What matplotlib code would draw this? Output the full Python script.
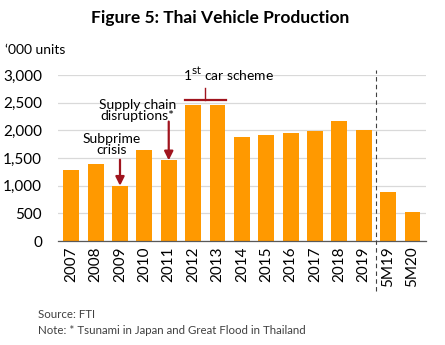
import numpy as np
import matplotlib
matplotlib.use("Agg")
import matplotlib.pyplot as plt
import matplotlib.transforms as mtransforms

plt.rcParams["font.family"] = ["Lato", "DejaVu Sans"]

# Thai vehicle production, '000 units
periods = ["2007", "2008", "2009", "2010", "2011", "2012", "2013", "2014",
           "2015", "2016", "2017", "2018", "2019", "5M19", "5M20"]
production = [1287, 1394, 999, 1645, 1458, 2454, 2457, 1880,
              1913, 1944, 1989, 2168, 2014, 890, 523]
y_ticks = [0, 500, 1000, 1500, 2000, 2500, 3000]

bar_color = "#FF9900"
note_red = "#A0141E"

fig = plt.figure(figsize=(4.45, 3.45), dpi=100)
ax = fig.add_axes([0.130, 0.3014, 0.827, 0.4812])

x = np.arange(len(periods))
ax.bar(x, production, width=0.65, color=bar_color, zorder=2)

ax.set_xlim(-0.55, len(periods) - 0.45)
ax.set_ylim(0, 3000)
ax.set_yticks(y_ticks)
ax.set_yticklabels([f"{v:,}" for v in y_ticks], fontsize=11)
ax.set_xticks(x)
ax.set_xticklabels(periods, rotation=90, fontsize=11)
ax.tick_params(length=0, pad=4)
ax.tick_params(axis="y", pad=11.5)
ax.grid(axis="y", color="#D9D9D9", linewidth=0.9, zorder=0)
for side in ["top", "right", "left"]:
    ax.spines[side].set_visible(False)
ax.spines["bottom"].set_color("#595959")
ax.spines["bottom"].set_linewidth(0.9)

# split between full years and year-to-date
trans = mtransforms.blended_transform_factory(ax.transData, ax.transAxes)
ax.plot([12.5, 12.5], [-0.30, 1.03], transform=trans, color="#404040",
        linestyle=(0, (4, 3)), linewidth=0.8, clip_on=False, zorder=3)

# annotations
i09 = periods.index("2009")
ax.annotate("", xy=(i09, production[i09]), xytext=(i09, production[i09] + 470),
            arrowprops=dict(arrowstyle="-|>", color=note_red, lw=1.6,
                            mutation_scale=13, shrinkA=0, shrinkB=0))
ax.text(i09 - 0.35, production[i09] + 530, "Subprime\ncrisis", ha="center",
        va="bottom", fontsize=10, linespacing=0.9)

i11 = periods.index("2011")
ax.annotate("", xy=(i11, production[i11]), xytext=(i11, production[i11] + 700),
            arrowprops=dict(arrowstyle="-|>", color=note_red, lw=1.6,
                            mutation_scale=13, shrinkA=0, shrinkB=0))
ax.text(i11 - 1.27, production[i11] + 700, "Supply chain\ndisruptions*",
        ha="center", va="bottom", fontsize=10, linespacing=0.85)

i12 = periods.index("2012")
top = max(production[i12], production[i12 + 1]) + 100
ax.plot([i12 - 0.33, i12 + 1.33], [top, top], color=note_red, lw=1.6,
        clip_on=False, zorder=3)
ax.plot([i12 + 0.5, i12 + 0.5], [top, top + 200], color=note_red, lw=1.0,
        clip_on=False, zorder=3)
ax.text(i12 + 1.45, top + 290, "1$^{\\mathrm{st}}$ car scheme", ha="center",
        va="bottom", fontsize=10)

fig.text(0.494, 0.948, "Figure 5: Thai Vehicle Production", ha="center",
         va="center", fontsize=12.5, fontweight="bold")
fig.text(0.011, 0.855, "\u2018000 units", ha="left", va="center", fontsize=10)
fig.text(0.085, 0.087, "Source: FTI", ha="left", va="center", fontsize=8.3,
         color="#404040")
fig.text(0.085, 0.043, "Note: * Tsunami in Japan and Great Flood in Thailand",
         ha="left", va="center", fontsize=8.3, color="#404040")

fig.savefig("out.png", dpi=100)
